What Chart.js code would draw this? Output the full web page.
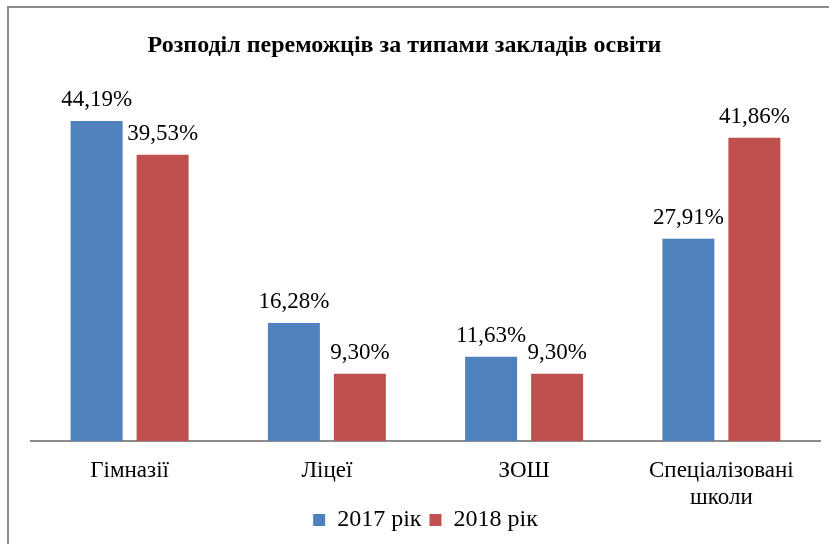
<!DOCTYPE html>
<html>
<head>
<meta charset="utf-8">
<script src="https://cdn.jsdelivr.net/npm/chart.js@4"></script>
<style>
  body { margin: 0; background: #fff; }
  #frame { position: absolute; left: 7px; top: 6px; width: 900px; height: 600px; border: 2px solid #8c8c8c; }
  #myChart { position: absolute; left: 0; top: 0; }
</style>
</head>
<body>
<div id="frame"></div>
<canvas id="myChart" width="829" height="544"></canvas>
<script>
var categories = ['Гімназії', 'Ліцеї', 'ЗОШ', ['Спеціалізовані', 'школи']];
var values2017 = [44.19, 16.28, 11.63, 27.91];
var values2018 = [39.53, 9.30, 9.30, 41.86];
var seriesNames = ['2017 рік', '2018 рік'];

var serif = "'Liberation Serif', 'Times New Roman', serif";

// data labels like "44,19%" above each bar
var barLabels = {
  id: 'barLabels',
  afterDatasetsDraw: function (chart) {
    var ctx = chart.ctx;
    ctx.save();
    ctx.font = '23px ' + serif;
    ctx.fillStyle = '#000';
    ctx.textAlign = 'center';
    ctx.textBaseline = 'alphabetic';
    chart.data.datasets.forEach(function (ds, i) {
      chart.getDatasetMeta(i).data.forEach(function (bar, j) {
        var txt = ds.data[j].toFixed(2).replace('.', ',') + '%';
        ctx.fillText(txt, bar.x, bar.y - 15);
      });
    });
    ctx.restore();
  }
};

// title sits a bit left of centre; second tick line may run into the legend band
var layoutTweak = {
  id: 'layoutTweak',
  afterLayout: function (chart) {
    if (chart.titleBlock) {
      chart.titleBlock.left -= 21;
      chart.titleBlock.right -= 21;
    }
    chart.scales.x.bottom = chart.height;
  }
};

var ctx = document.getElementById('myChart').getContext('2d');
var myChart = new Chart(ctx, {
  type: 'bar',
  data: {
    labels: categories,
    datasets: [{
      label: seriesNames[0],
      data: values2017,
      backgroundColor: '#4F81BD',
      categoryPercentage: 0.669,
      barPercentage: 0.788
    }, {
      label: seriesNames[1],
      data: values2018,
      backgroundColor: '#C0504D',
      categoryPercentage: 0.669,
      barPercentage: 0.788
    }]
  },
  options: {
    responsive: false,
    animation: false,
    layout: { padding: { left: 31, right: 9, top: 0, bottom: 2 } },
    plugins: {
      title: {
        display: true,
        text: 'Розподіл переможців за типами закладів освіти',
        color: '#000',
        font: { family: serif, size: 24, weight: 'bold', lineHeight: 1.2 },
        padding: { top: 31, bottom: 19 }
      },
      legend: {
        position: 'bottom',
        labels: {
          color: '#000',
          font: { family: serif, size: 24 },
          boxWidth: 12,
          boxHeight: 12,
          padding: 8
        }
      },
      tooltip: { enabled: false }
    },
    scales: {
      y: {
        display: false,
        min: 0,
        max: 50
      },
      x: {
        grid: { display: false, drawTicks: false },
        border: { color: '#8c8c8c', width: 2 },
        ticks: {
          color: '#000',
          padding: 16,
          font: { family: serif, size: 23, lineHeight: 1.2 },
          maxRotation: 0,
          autoSkip: false
        },
        afterFit: function (scale) { scale.height = 59; }
      }
    }
  },
  plugins: [barLabels, layoutTweak]
});
</script>
</body>
</html>
